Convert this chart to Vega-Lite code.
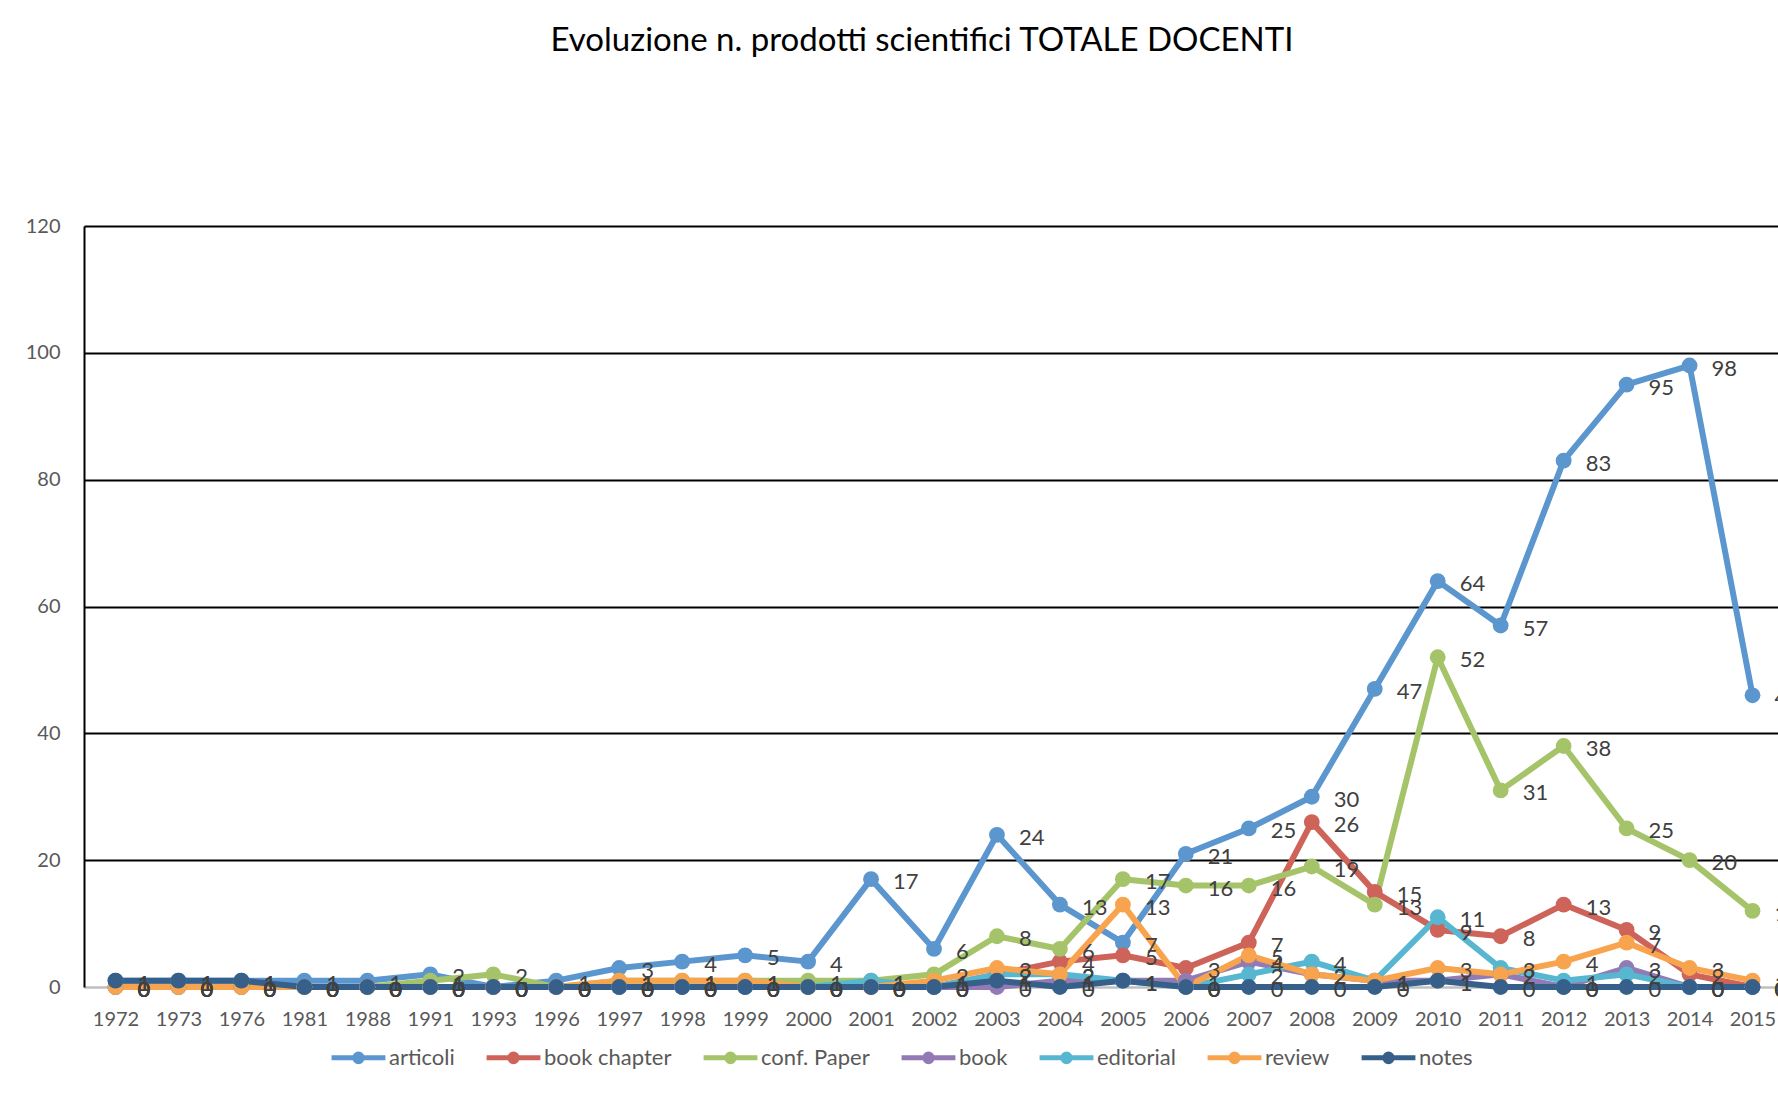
{
"$schema": "https://vega.github.io/schema/vega-lite/v6.json",
"width": 1700, "height": 761,
"autosize": {"type": "none"},
"padding": {"left": 84, "top": 226, "right": 0, "bottom": 109},
"background": "white",
"title": {"text": "Evoluzione n. prodotti scientifici TOTALE DOCENTI", "font": "Lato", "fontSize": 33, "fontWeight": "normal", "color": "#000000", "offset": 158, "anchor": "middle", "dx": -12},
"config": {"view": {"stroke": null}, "font": "Lato"},
"datasets": {"d": [
{"year":"1972","series":"articoli","value":1},{"year":"1973","series":"articoli","value":1},{"year":"1976","series":"articoli","value":1},{"year":"1981","series":"articoli","value":1},{"year":"1988","series":"articoli","value":1},{"year":"1991","series":"articoli","value":2},{"year":"1993","series":"articoli","value":0},{"year":"1996","series":"articoli","value":1},{"year":"1997","series":"articoli","value":3},{"year":"1998","series":"articoli","value":4},{"year":"1999","series":"articoli","value":5},{"year":"2000","series":"articoli","value":4},{"year":"2001","series":"articoli","value":17},{"year":"2002","series":"articoli","value":6},{"year":"2003","series":"articoli","value":24},{"year":"2004","series":"articoli","value":13},{"year":"2005","series":"articoli","value":7},{"year":"2006","series":"articoli","value":21},{"year":"2007","series":"articoli","value":25},{"year":"2008","series":"articoli","value":30},{"year":"2009","series":"articoli","value":47},{"year":"2010","series":"articoli","value":64},{"year":"2011","series":"articoli","value":57},{"year":"2012","series":"articoli","value":83},{"year":"2013","series":"articoli","value":95},{"year":"2014","series":"articoli","value":98},{"year":"2015","series":"articoli","value":46},
{"year":"1972","series":"book chapter","value":0},{"year":"1973","series":"book chapter","value":0},{"year":"1976","series":"book chapter","value":0},{"year":"1981","series":"book chapter","value":0},{"year":"1988","series":"book chapter","value":0},{"year":"1991","series":"book chapter","value":0},{"year":"1993","series":"book chapter","value":0},{"year":"1996","series":"book chapter","value":0},{"year":"1997","series":"book chapter","value":0},{"year":"1998","series":"book chapter","value":0},{"year":"1999","series":"book chapter","value":0},{"year":"2000","series":"book chapter","value":0},{"year":"2001","series":"book chapter","value":0},{"year":"2002","series":"book chapter","value":0},{"year":"2003","series":"book chapter","value":2},{"year":"2004","series":"book chapter","value":4},{"year":"2005","series":"book chapter","value":5},{"year":"2006","series":"book chapter","value":3},{"year":"2007","series":"book chapter","value":7},{"year":"2008","series":"book chapter","value":26},{"year":"2009","series":"book chapter","value":15},{"year":"2010","series":"book chapter","value":9},{"year":"2011","series":"book chapter","value":8},{"year":"2012","series":"book chapter","value":13},{"year":"2013","series":"book chapter","value":9},{"year":"2014","series":"book chapter","value":2},{"year":"2015","series":"book chapter","value":0},
{"year":"1972","series":"conf. Paper","value":0},{"year":"1973","series":"conf. Paper","value":0},{"year":"1976","series":"conf. Paper","value":0},{"year":"1981","series":"conf. Paper","value":0},{"year":"1988","series":"conf. Paper","value":0},{"year":"1991","series":"conf. Paper","value":1},{"year":"1993","series":"conf. Paper","value":2},{"year":"1996","series":"conf. Paper","value":0},{"year":"1997","series":"conf. Paper","value":1},{"year":"1998","series":"conf. Paper","value":1},{"year":"1999","series":"conf. Paper","value":1},{"year":"2000","series":"conf. Paper","value":1},{"year":"2001","series":"conf. Paper","value":1},{"year":"2002","series":"conf. Paper","value":2},{"year":"2003","series":"conf. Paper","value":8},{"year":"2004","series":"conf. Paper","value":6},{"year":"2005","series":"conf. Paper","value":17},{"year":"2006","series":"conf. Paper","value":16},{"year":"2007","series":"conf. Paper","value":16},{"year":"2008","series":"conf. Paper","value":19},{"year":"2009","series":"conf. Paper","value":13},{"year":"2010","series":"conf. Paper","value":52},{"year":"2011","series":"conf. Paper","value":31},{"year":"2012","series":"conf. Paper","value":38},{"year":"2013","series":"conf. Paper","value":25},{"year":"2014","series":"conf. Paper","value":20},{"year":"2015","series":"conf. Paper","value":12},
{"year":"1972","series":"book","value":0},{"year":"1973","series":"book","value":0},{"year":"1976","series":"book","value":0},{"year":"1981","series":"book","value":0},{"year":"1988","series":"book","value":0},{"year":"1991","series":"book","value":0},{"year":"1993","series":"book","value":0},{"year":"1996","series":"book","value":0},{"year":"1997","series":"book","value":0},{"year":"1998","series":"book","value":0},{"year":"1999","series":"book","value":0},{"year":"2000","series":"book","value":0},{"year":"2001","series":"book","value":0},{"year":"2002","series":"book","value":0},{"year":"2003","series":"book","value":0},{"year":"2004","series":"book","value":1},{"year":"2005","series":"book","value":1},{"year":"2006","series":"book","value":1},{"year":"2007","series":"book","value":4},{"year":"2008","series":"book","value":2},{"year":"2009","series":"book","value":1},{"year":"2010","series":"book","value":1},{"year":"2011","series":"book","value":2},{"year":"2012","series":"book","value":0},{"year":"2013","series":"book","value":3},{"year":"2014","series":"book","value":0},{"year":"2015","series":"book","value":0},
{"year":"1972","series":"editorial","value":0},{"year":"1973","series":"editorial","value":0},{"year":"1976","series":"editorial","value":0},{"year":"1981","series":"editorial","value":0},{"year":"1988","series":"editorial","value":0},{"year":"1991","series":"editorial","value":0},{"year":"1993","series":"editorial","value":0},{"year":"1996","series":"editorial","value":0},{"year":"1997","series":"editorial","value":0},{"year":"1998","series":"editorial","value":0},{"year":"1999","series":"editorial","value":0},{"year":"2000","series":"editorial","value":0},{"year":"2001","series":"editorial","value":1},{"year":"2002","series":"editorial","value":0},{"year":"2003","series":"editorial","value":2},{"year":"2004","series":"editorial","value":2},{"year":"2005","series":"editorial","value":1},{"year":"2006","series":"editorial","value":0},{"year":"2007","series":"editorial","value":2},{"year":"2008","series":"editorial","value":4},{"year":"2009","series":"editorial","value":1},{"year":"2010","series":"editorial","value":11},{"year":"2011","series":"editorial","value":3},{"year":"2012","series":"editorial","value":1},{"year":"2013","series":"editorial","value":2},{"year":"2014","series":"editorial","value":0},{"year":"2015","series":"editorial","value":0},
{"year":"1972","series":"review","value":0},{"year":"1973","series":"review","value":0},{"year":"1976","series":"review","value":0},{"year":"1981","series":"review","value":0},{"year":"1988","series":"review","value":0},{"year":"1991","series":"review","value":0},{"year":"1993","series":"review","value":0},{"year":"1996","series":"review","value":0},{"year":"1997","series":"review","value":1},{"year":"1998","series":"review","value":1},{"year":"1999","series":"review","value":1},{"year":"2000","series":"review","value":0},{"year":"2001","series":"review","value":0},{"year":"2002","series":"review","value":1},{"year":"2003","series":"review","value":3},{"year":"2004","series":"review","value":2},{"year":"2005","series":"review","value":13},{"year":"2006","series":"review","value":0},{"year":"2007","series":"review","value":5},{"year":"2008","series":"review","value":2},{"year":"2009","series":"review","value":1},{"year":"2010","series":"review","value":3},{"year":"2011","series":"review","value":2},{"year":"2012","series":"review","value":4},{"year":"2013","series":"review","value":7},{"year":"2014","series":"review","value":3},{"year":"2015","series":"review","value":1},
{"year":"1972","series":"notes","value":1},{"year":"1973","series":"notes","value":1},{"year":"1976","series":"notes","value":1},{"year":"1981","series":"notes","value":0},{"year":"1988","series":"notes","value":0},{"year":"1991","series":"notes","value":0},{"year":"1993","series":"notes","value":0},{"year":"1996","series":"notes","value":0},{"year":"1997","series":"notes","value":0},{"year":"1998","series":"notes","value":0},{"year":"1999","series":"notes","value":0},{"year":"2000","series":"notes","value":0},{"year":"2001","series":"notes","value":0},{"year":"2002","series":"notes","value":0},{"year":"2003","series":"notes","value":1},{"year":"2004","series":"notes","value":0},{"year":"2005","series":"notes","value":1},{"year":"2006","series":"notes","value":0},{"year":"2007","series":"notes","value":0},{"year":"2008","series":"notes","value":0},{"year":"2009","series":"notes","value":0},{"year":"2010","series":"notes","value":1},{"year":"2011","series":"notes","value":0},{"year":"2012","series":"notes","value":0},{"year":"2013","series":"notes","value":0},{"year":"2014","series":"notes","value":0},{"year":"2015","series":"notes","value":0}
]},
"data": {"name": "d"},
"encoding": {
  "x": {"field": "year", "type": "ordinal", "sort": null, "scale": {"type": "point", "padding": 0.5},
        "axis": {"title": null, "labelAngle": 0, "labelFontSize": 20, "labelColor": "#595959", "labelFont": "Lato", "domainColor": "#bfbfbf", "domainWidth": 2, "ticks": false, "labelPadding": 22, "grid": false}},
  "y": {"field": "value", "type": "quantitative", "scale": {"domain": [0, 120], "nice": false},
        "axis": {"title": null, "values": [0, 20, 40, 60, 80, 100, 120], "labelFontSize": 20, "labelColor": "#595959", "labelFont": "Lato", "labelPadding": 24, "ticks": false, "domainColor": "#000000", "domainWidth": 2,
                 "gridColor": {"condition": {"test": "datum.value === 0", "value": "#bfbfbf"}, "value": "#000000"}, "gridWidth": 1.8}},
  "color": {"field": "series", "type": "nominal",
            "scale": {"domain": ["articoli", "book chapter", "conf. Paper", "book", "editorial", "review", "notes"],
                      "range": ["#5B96CE", "#CD6359", "#A5C469", "#927AB5", "#57B7D1", "#F8A44F", "#36608A"]},
            "legend": {"title": null, "orient": "none", "legendX": 245, "legendY": 802, "direction": "horizontal", "columns": 7,
                       "symbolType": "M-1,0L1,0M-0.14,0A0.14,0.14,0,1,0,0.14,0A0.14,0.14,0,1,0,-0.14,0M-0.06,0A0.06,0.06,0,1,0,0.06,0A0.06,0.06,0,1,0,-0.06,0",
                       "symbolSize": 2900, "symbolStrokeWidth": 5, "labelFontSize": 22, "labelColor": "#595959", "labelFont": "Lato", "labelOffset": 1, "columnPadding": 21}}
},
"layer": [
  {"mark": {"type": "line", "strokeWidth": 6, "strokeJoin": "round"}},
  {"mark": {"type": "circle", "size": 250, "opacity": 1}},
  {"mark": {"type": "text", "align": "left", "baseline": "middle", "dx": 22, "dy": 3, "fontSize": 22, "font": "Lato", "color": "#404040"},
   "encoding": {"text": {"field": "value", "type": "quantitative"}, "color": {"value": "#404040"}}}
]
}
